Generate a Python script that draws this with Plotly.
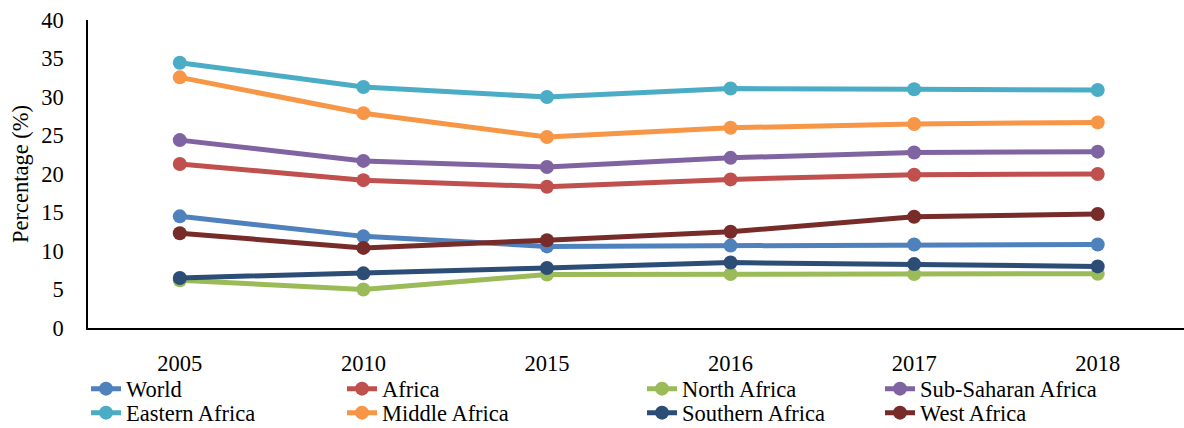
import plotly.graph_objects as go

years = ["2005", "2010", "2015", "2016", "2017", "2018"]

world = [14.5, 11.9, 10.6, 10.7, 10.85, 10.85]
africa = [21.3, 19.2, 18.35, 19.3, 19.9, 20.0]
north_africa = [6.2, 5.0, 6.95, 7.0, 7.0, 7.05]
sub_saharan = [24.4, 21.7, 20.9, 22.1, 22.8, 22.9]
eastern_africa = [34.45, 31.3, 30.0, 31.1, 31.0, 30.9]
middle_africa = [32.55, 27.9, 24.8, 26.0, 26.5, 26.7]
southern_africa = [6.5, 7.1, 7.8, 8.5, 8.3, 8.0]
west_africa = [12.3, 10.4, 11.4, 12.5, 14.45, 14.8]

names = ["World", "Africa", "North Africa", "Sub-Saharan Africa",
         "Eastern Africa", "Middle Africa", "Southern Africa", "West Africa"]
values = [world, africa, north_africa, sub_saharan,
          eastern_africa, middle_africa, southern_africa, west_africa]
colors = ["#4F81BD", "#C0504D", "#9BBB59", "#8064A2",
          "#4BACC6", "#F79646", "#2C4D75", "#772C2A"]

FONT = "Liberation Serif, Times New Roman, serif"
FS = 22.5

L, T, B, H, Wd = 88, 20, 328, 428, 1184
PW = Wd - L
PH = B - T

def px(x):
    return (x - L) / PW

def py(y):
    return (B - y) / PH

# legend text start positions (pixels) per column, and row centres
col_text_x = [127, 383, 683, 921]
row_y = [389, 413]

fig = go.Figure()
layout_legends = {}
for i, (name, vals, color) in enumerate(zip(names, values, colors)):
    lg = "legend" if i == 0 else f"legend{i + 1}"
    fig.add_trace(go.Scatter(
        x=list(range(len(years))), y=vals, name=name, mode="lines+markers",
        line=dict(color=color, width=5),
        marker=dict(color=color, size=14),
        legend=lg,
    ))
    col, row = i % 4, i // 4
    layout_legends[lg] = dict(
        x=px(col_text_x[col] - 41), y=py(row_y[row]),
        xanchor="left", yanchor="middle", orientation="v",
        font=dict(family=FONT, size=FS, color="#000"),
        bgcolor="rgba(0,0,0,0)", itemwidth=30,
    )

fig.update_layout(
    width=Wd, height=H,
    margin=dict(l=L, r=0, t=T, b=H - B, autoexpand=False),
    paper_bgcolor="white", plot_bgcolor="white",
    font=dict(family=FONT, size=FS, color="#000"),
    xaxis=dict(
        range=[-0.5, 5.47], tickmode="array",
        tickvals=list(range(len(years))), ticktext=years,
        showline=True, linecolor="#000", linewidth=1.5,
        showgrid=False, zeroline=False, ticks="",
        ticklabelstandoff=14,
        tickfont=dict(family=FONT, size=FS, color="#000"),
    ),
    yaxis=dict(
        range=[0, 40], dtick=5, tick0=0,
        showline=True, linecolor="#000", linewidth=1.5,
        showgrid=False, zeroline=False, ticks="",
        ticklabelstandoff=18,
        tickfont=dict(family=FONT, size=FS, color="#000"),
        title=dict(text="Percentage (%)", standoff=6,
                   font=dict(family=FONT, size=FS, color="#000")),
    ),
    showlegend=True,
    **layout_legends,
)

fig.write_html("out.html")
